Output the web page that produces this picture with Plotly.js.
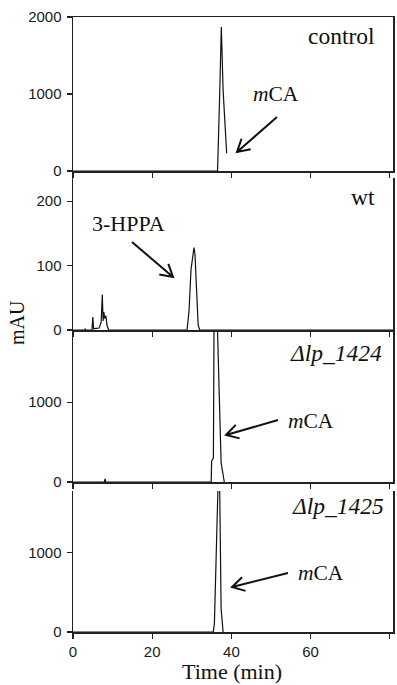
<!DOCTYPE html>
<html>
<head>
<meta charset="utf-8">
<script src="https://cdn.plot.ly/plotly-3.0.1.min.js"></script>
<style>html,body{margin:0;padding:0;background:#fff;}#chart{width:397px;height:685px;}</style>
</head>
<body>
<div id="chart"></div>
<script>
// ---- data (time in min, absorbance in mAU) ----
const panelLabels = ["control", "wt", "<i>Δlp_1424</i>", "<i>Δlp_1425</i>"];
const xTicks = [0, 20, 40, 60, 80];
const yTicks1 = [0, 1000, 2000];
const yTicks2 = [0, 100, 200];
const yTicks3 = [0, 1000];
const yTicks4 = [0, 1000];

const timeControl = [0, 36.4, 36.5, 37.0, 37.45, 37.9, 38.5, 38.8];
const mauControl  = [0, 0, 0, 920, 1870, 1050, 400, 230];

const timeWt = [0, 3.0, 3.1, 3.2, 4.8, 5.0, 5.2, 6.6, 7.1, 7.4, 7.6, 7.8, 8.0, 8.3, 8.6, 9.0, 28.8, 29.3, 29.8, 30.3, 30.55, 30.8, 31.0, 31.3, 31.6, 32.0, 81];
const mauWt  = [0, 0, 2, 0, 0, 20, 2, 3, 12, 55, 14, 28, 18, 22, 7, 0, 0, 30, 94, 124, 128, 118, 94, 40, 8, 0, 0];

const time1424 = [0, 7.9, 8.1, 8.3, 34.9, 35.0, 35.45, 35.6, 36.05, 36.5, 37.4, 37.9, 38.2];
const mau1424  = [0, 0, 40, 0, 0, 260, 300, 1880, 2300, 1880, 240, 50, 0];

const time1425 = [0, 35.4, 35.7, 36.45, 36.75, 37.05, 37.4, 37.7, 37.9];
const mau1425  = [0, 0, 100, 1775, 2100, 1775, 290, 115, 0];

// ---- layout helpers (pixel -> paper) ----
const L = 73, R = 393, T = 17, B = 632;
const px = X => (X - L) / (R - L);
const py = Y => (B - Y) / (B - T);

const lineStyle = {color: '#111', width: 1.2};
const traces = [
  {x: timeControl, y: mauControl, xaxis: 'x', yaxis: 'y'},
  {x: timeWt, y: mauWt, xaxis: 'x2', yaxis: 'y2'},
  {x: time1424, y: mau1424, xaxis: 'x3', yaxis: 'y3'},
  {x: time1425, y: mau1425, xaxis: 'x4', yaxis: 'y4'}
].map(t => Object.assign(t, {type: 'scatter', mode: 'lines', line: lineStyle, hoverinfo: 'skip', showlegend: false}));

const sans = "Liberation Sans";
const serif = "Liberation Serif";
const tickFont = {family: sans, size: 15, color: '#1a1a1a'};
function xa(anchor, showLabels, mirror) {
  return {anchor: anchor, domain: [0, 1], range: [0, 80.8], tickvals: xTicks, ticks: 'outside', ticklen: 5,
    tickwidth: 1.3, tickcolor: '#222', showline: true, linecolor: '#222', linewidth: 1.5, mirror: mirror,
    showgrid: false, zeroline: false, showticklabels: showLabels, tickfont: tickFont, fixedrange: true};
}
function ya(anchor, dom, range, tv) {
  return {anchor: anchor, domain: dom, range: range, tickvals: tv, ticks: 'outside', ticklen: 5,
    tickwidth: 1.3, tickcolor: '#222', showline: true, linecolor: '#222', linewidth: 1.5, mirror: true,
    showgrid: false, zeroline: false, tickfont: tickFont, ticklabelstandoff: 2, fixedrange: true};
}

function label(text, X, Y, xanchor, size) {
  return {text: text, x: px(X), y: py(Y), xref: 'paper', yref: 'paper', xanchor: xanchor, yanchor: 'middle',
    showarrow: false, font: {family: serif, size: size || 21, color: '#111'}};
}
const annotations = [
  label(panelLabels[0], 377, 36, 'right', 23.5),
  label(panelLabels[1], 377, 197, 'right', 23.5),
  label(panelLabels[2], 384, 353, 'right', 23.5),
  label(panelLabels[3], 386, 506, 'right', 23.5),
  label('<i>m</i>CA', 251, 94, 'left', 21.5),
  label('3-HPPA', 90, 224, 'left', 22),
  label('<i>m</i>CA', 286, 421, 'left', 21.5),
  label('<i>m</i>CA', 296, 573, 'left', 21.5),
  {text: 'Time (min)', x: px(232), y: py(671), xref: 'paper', yref: 'paper', xanchor: 'center', yanchor: 'middle',
   showarrow: false, font: {family: serif, size: 22, color: '#111'}},
  {text: 'mAU', x: px(17), y: py(323), xref: 'paper', yref: 'paper', xanchor: 'center', yanchor: 'middle',
   textangle: -90, showarrow: false, font: {family: serif, size: 20, color: '#111'}}
];

// arrows with open V heads, drawn as path shapes
function arrow(tx, ty, hx, hy) {
  const ang = Math.atan2(ty - hy, tx - hx), len = 14, spread = Math.PI / 6;
  const w1 = [hx + len * Math.cos(ang + spread), hy + len * Math.sin(ang + spread)];
  const w2 = [hx + len * Math.cos(ang - spread), hy + len * Math.sin(ang - spread)];
  const P = (X, Y) => px(X).toFixed(5) + ',' + py(Y).toFixed(5);
  return {type: 'path', xref: 'paper', yref: 'paper',
    path: 'M' + P(tx, ty) + ' L' + P(hx, hy) + ' M' + P(w1[0], w1[1]) + ' L' + P(hx, hy) + ' L' + P(w2[0], w2[1]),
    line: {color: '#111', width: 2}};
}
const shapes = [
  arrow(277, 117, 237, 152),
  arrow(132, 242, 173, 277),
  arrow(278, 420, 226, 435),
  arrow(288, 573, 232, 587)
];

const layout = {
  width: 397, height: 685,
  margin: {l: L, r: 397 - R, t: T, b: 685 - B},
  paper_bgcolor: '#fff', plot_bgcolor: '#fff',
  showlegend: false,
  font: {family: sans},
  xaxis: xa('y', false, true),
  xaxis2: xa('y2', false, false),
  xaxis3: xa('y3', false, false),
  xaxis4: xa('y4', true, false),
  yaxis: ya('x', [py(171), 1], [0, 2000], yTicks1),
  yaxis2: ya('x2', [py(330), py(178)], [0, 236], yTicks2),
  yaxis3: ya('x3', [py(482), py(332)], [0, 1880], yTicks3),
  yaxis4: ya('x4', [0, py(491)], [0, 1780], yTicks4),
  annotations: annotations,
  shapes: shapes
};

Plotly.newPlot('chart', traces, layout, {displayModeBar: false, staticPlot: true});
</script>
</body>
</html>
